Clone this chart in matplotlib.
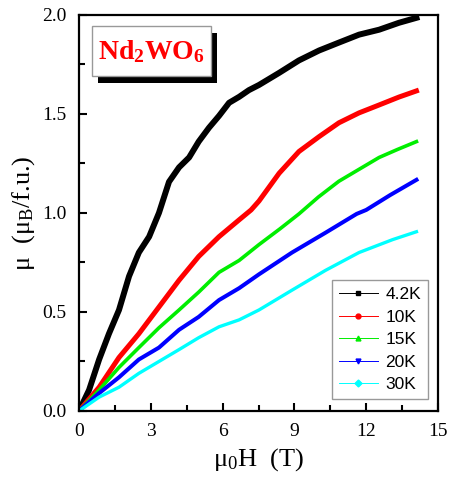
import numpy as np
import matplotlib.pyplot as plt
from matplotlib.lines import Line2D
from matplotlib.patches import Rectangle

plt.rcParams['font.family'] = ['Liberation Serif', 'DejaVu Serif']
plt.rcParams['mathtext.fontset'] = 'custom'
plt.rcParams['mathtext.rm'] = 'Liberation Serif'
plt.rcParams['mathtext.it'] = 'Liberation Serif:italic'
plt.rcParams['mathtext.bf'] = 'Liberation Serif:bold'

# field (T) and moment (mu_B / f.u.)
h_42 = [0, 0.42, 0.84, 1.25, 1.67, 2.09, 2.5, 2.93, 3.34, 3.76, 4.18, 4.6, 5.0, 5.43,
        5.85, 6.27, 6.69, 7.1, 7.52, 8.36, 9.19, 10.03, 10.86, 11.7, 12.54, 13.37, 14.1]
m_42 = [0, 0.106, 0.26, 0.39, 0.51, 0.68, 0.80, 0.88, 1.0, 1.157, 1.23, 1.28, 1.36, 1.43,
        1.49, 1.556, 1.586, 1.62, 1.646, 1.707, 1.77, 1.82, 1.86, 1.90, 1.925, 1.96, 1.985]

h_10 = [0, 0.84, 1.67, 2.5, 3.34, 4.18, 5.0, 5.85, 6.69, 7.19, 7.52, 8.36, 9.19,
        10.03, 10.86, 11.7, 12.54, 13.37, 14.1]
m_10 = [0, 0.12, 0.27, 0.39, 0.525, 0.66, 0.78, 0.88, 0.965, 1.015, 1.06, 1.2, 1.31,
        1.385, 1.455, 1.505, 1.545, 1.585, 1.616]

h_15 = [0, 0.84, 1.67, 2.5, 3.34, 4.18, 5.0, 5.85, 6.69, 7.52, 8.4, 9.19, 10.0, 10.86,
        11.7, 12.54, 13.3, 14.1]
m_15 = [0, 0.106, 0.22, 0.32, 0.42, 0.51, 0.60, 0.70, 0.76, 0.84, 0.92, 0.995, 1.08,
        1.16, 1.22, 1.28, 1.32, 1.36]

h_20 = [0, 0.84, 1.67, 2.5, 3.34, 4.18, 5.0, 5.85, 6.69, 7.52, 8.9, 10.3, 11.6, 12.0,
        13.0, 14.1]
m_20 = [0, 0.09, 0.17, 0.26, 0.32, 0.41, 0.475, 0.56, 0.62, 0.69, 0.80, 0.90, 0.995,
        1.015, 1.09, 1.167]

h_30 = [0, 0.84, 1.67, 2.5, 3.34, 4.18, 5.0, 5.85, 6.69, 7.52, 8.9, 10.3, 11.7, 13.1, 14.1]
m_30 = [0, 0.07, 0.12, 0.19, 0.25, 0.31, 0.37, 0.425, 0.46, 0.51, 0.61, 0.71, 0.80,
        0.865, 0.905]

series = [
    ("4.2K", h_42, m_42, "black", "s", 4.3),
    ("10K", h_10, m_10, "red", "o", 3.6),
    ("15K", h_15, m_15, "#00ee00", "^", 2.6),
    ("20K", h_20, m_20, "blue", "v", 2.9),
    ("30K", h_30, m_30, "cyan", "D", 2.4),
]

fig = plt.figure(figsize=(4.49, 4.79), dpi=100)
ax = fig.add_axes([0.176, 0.142, 0.7995, 0.827])

handles = []
for lab, h, m, col, mk, lw in series:
    ax.plot(h, m, color=col, lw=lw, solid_joinstyle='round')
    handles.append(Line2D([], [], color=col, lw=0.7, marker=mk, markersize=3.5,
                          label=lab))

ax.set_xlim(0, 15)
ax.set_ylim(0, 2.0)
ax.set_xticks(np.arange(0, 16, 3))
ax.set_xticks(np.arange(1.5, 15, 3), minor=True)
ax.set_yticks(np.arange(0, 2.01, 0.5))
ax.set_yticks(np.arange(0.25, 2.0, 0.5), minor=True)
ax.yaxis.set_major_formatter(plt.FormatStrFormatter('%.1f'))
ax.tick_params(which='both', direction='in', width=1.5, labelsize=14, top=False, right=False)
ax.tick_params(which='major', length=6)
ax.tick_params(which='minor', length=4)
ax.tick_params(axis='x', which='major', pad=9)
ax.tick_params(axis='y', which='major', pad=9)
for s in ax.spines.values():
    s.set_linewidth(1.6)

ax.set_xlabel(r'$\mathrm{\mu_0H}$  (T)', fontsize=19, labelpad=4)
ax.set_ylabel(r'$\mathrm{\mu}$  ($\mathrm{\mu_B}$/f.u.)', fontsize=19, labelpad=4)

leg = ax.legend(handles=handles, loc='lower right', bbox_to_anchor=(0.972, 0.03),
                prop={'family': 'Liberation Sans', 'size': 12.5}, fancybox=False,
                edgecolor='gray', handlelength=2.3, labelspacing=0.42,
                borderpad=0.4, handletextpad=0.4, borderaxespad=0)
leg.get_frame().set_linewidth(1.0)

# label box with a drop shadow
ax.add_patch(Rectangle((0.053, 0.828), 0.332, 0.126, transform=ax.transAxes,
                       fc='black', ec='none', zorder=5))
ax.add_patch(Rectangle((0.036, 0.846), 0.332, 0.126, transform=ax.transAxes,
                       fc='white', ec='#999999', lw=1.0, zorder=6))
ax.text(0.202, 0.908, r'Nd$_\mathbf{2}$WO$_\mathbf{6}$', transform=ax.transAxes,
        fontsize=20, color='red', fontweight='bold', ha='center', va='center',
        zorder=7)

plt.savefig("out.png", dpi=100)
